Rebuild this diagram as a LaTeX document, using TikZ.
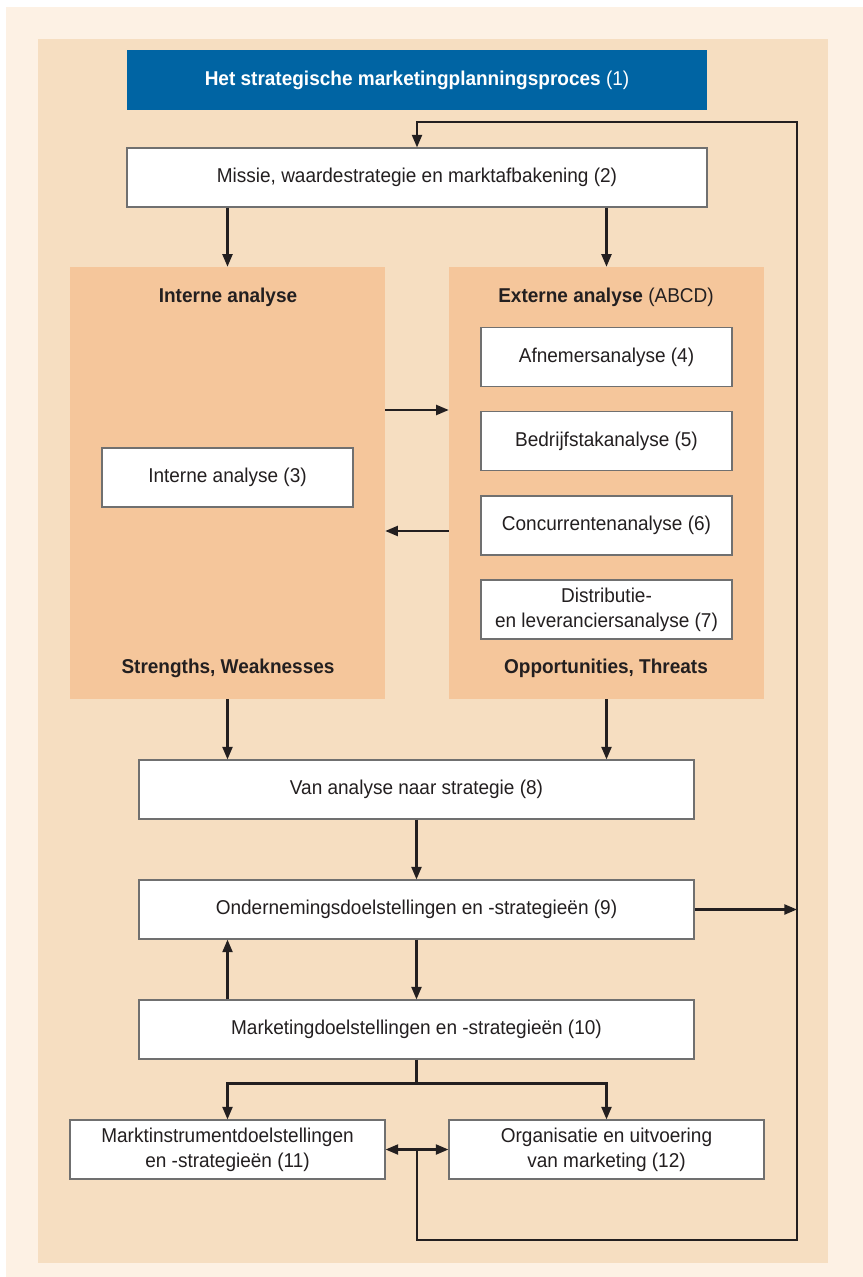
\documentclass[tikz,border=0pt]{standalone}
\usepackage{fontspec}
\setmainfont{Liberation Sans}[FakeStretch=0.95]
\usetikzlibrary{arrows.meta, positioning, calc}
\definecolor{pagepale}{HTML}{FDF1E4}
\definecolor{panelpale}{HTML}{F6DEC1}
\definecolor{analysisfill}{HTML}{F5C69B}
\definecolor{titleblue}{HTML}{0064A3}
\definecolor{inkdark}{HTML}{231F20}
\definecolor{boxline}{HTML}{707070}
\tikzset{
  stepbox/.style={draw=boxline, line width=0.8pt, fill=white, text=inkdark,
                  align=center, inner sep=2pt, minimum height=44.25pt},
  widebox/.style={stepbox, minimum width=416.25pt},
  halfbox/.style={stepbox, minimum width=236.25pt},
  subbox/.style={stepbox, minimum width=188.25pt},
  analysispanel/.style={fill=analysisfill, minimum width=236.25pt, minimum height=324pt},
  panellabel/.style={text=inkdark},
  flowline/.style={line width=1.7pt, inkdark},
  flowarrow/.style={flowline, -{Triangle[length=9.5pt,width=7.5pt]}},
  flowboth/.style={flowline, {Triangle[length=9.5pt,width=7.5pt]}-{Triangle[length=9.5pt,width=7.5pt]}},
}

\begin{document}
\begin{tikzpicture}[x=0.75pt, y=-0.75pt, font=\fontsize{15}{18.75}\selectfont]
  \useasboundingbox (0,0) rectangle (863,1277);
  % backgrounds
  \fill[white] (0,0) rectangle (863,1277);
  \fill[pagepale] (6,7) rectangle (863,1277);
  \fill[panelpale] (38,39) rectangle (828,1263);

  % title and mission
  \node[fill=titleblue, text=white, minimum width=435pt, minimum height=45pt] (title) at (417,80)
    {\textbf{Het strategische marketingplanningsproces} (1)};
  \node[stepbox, minimum width=435pt] (missie) at (417,177.5)
    {Missie, waardestrategie en marktafbakening (2)};

  % analysis panels
  \node[analysispanel] (intpanel) at (227.5,483) {};
  \node[analysispanel] (extpanel) at (606.5,483) {};
  \node[panellabel] (intlabel) at (228,297) {\textbf{Interne analyse}};
  \node[panellabel] (swlabel) at (228,668) {\textbf{Strengths, Weaknesses}};
  \node[panellabel] (extlabel) at (606,297) {\textbf{Externe analyse} (ABCD)};
  \node[panellabel] (otlabel) at (606,668) {\textbf{Opportunities, Threats}};
  \node[subbox] (int3) at (227.5,477.5) {Interne analyse (3)};
  \node[subbox] (ext4) at (606.5,357) {Afnemersanalyse (4)};
  \node[subbox] (ext5) at (606.5,441) {Bedrijfstakanalyse (5)};
  \node[subbox] (ext6) at (606.5,525.5) {Concurrentenanalyse (6)};
  \node[subbox] (ext7) at (606.5,609.5) {Distributie-\\en leveranciersanalyse (7)};

  % strategy chain
  \node[widebox] (strat8) at (416.5,789.5) {Van analyse naar strategie (8)};
  \node[widebox] (doel9) at (416.5,909.5) {Ondernemingsdoelstellingen en -strategieën (9)};
  \node[widebox] (mkt10) at (416.5,1029.5) {Marketingdoelstellingen en -strategieën (10)};
  \node[halfbox] (instr11) at (227.5,1149.5) {Marktinstrumentdoelstellingen\\en -strategieën (11)};
  \node[halfbox] (org12) at (606.5,1149.5) {Organisatie en uitvoering\\van marketing (12)};

  % helper coordinates
  \coordinate (fbtop) at (797,122);
  \coordinate (fbbot) at (797,1240);
  \coordinate (split) at ($(mkt10.south)+(0,24)$);
  \coordinate (jn) at ($(instr11.east)!0.5!(org12.west)$);

  % connectors
  \draw[flowarrow] (intpanel.north |- missie.south) -- (intpanel.north);
  \draw[flowarrow] (extpanel.north |- missie.south) -- (extpanel.north);
  \draw[flowarrow] ([yshift=54.75pt]intpanel.east) -- ([yshift=54.75pt]extpanel.west);
  \draw[flowarrow] ([yshift=-36pt]extpanel.west) -- ([yshift=-36pt]intpanel.east);
  \draw[flowarrow] (intpanel.south) -- (intpanel.south |- strat8.north);
  \draw[flowarrow] (extpanel.south) -- (extpanel.south |- strat8.north);
  \draw[flowarrow] (strat8.south) -- (doel9.north);
  \draw[flowarrow] (doel9.east) -- (doel9.east -| fbtop);
  \draw[flowarrow] (doel9.south) -- (mkt10.north);
  \draw[flowarrow] (mkt10.north -| int3.center) -- (doel9.south -| int3.center);
  \draw[flowline] (mkt10.south) -- (split);
  \draw[flowarrow] (split) -| (instr11.north);
  \draw[flowarrow] (split) -| (org12.north);
  \draw[flowboth] (instr11.east) -- (org12.west);
  % feedback loop
  \draw[flowarrow] (jn) |- (fbbot) -- (fbtop) -| (missie.north);
\end{tikzpicture}
\end{document}
